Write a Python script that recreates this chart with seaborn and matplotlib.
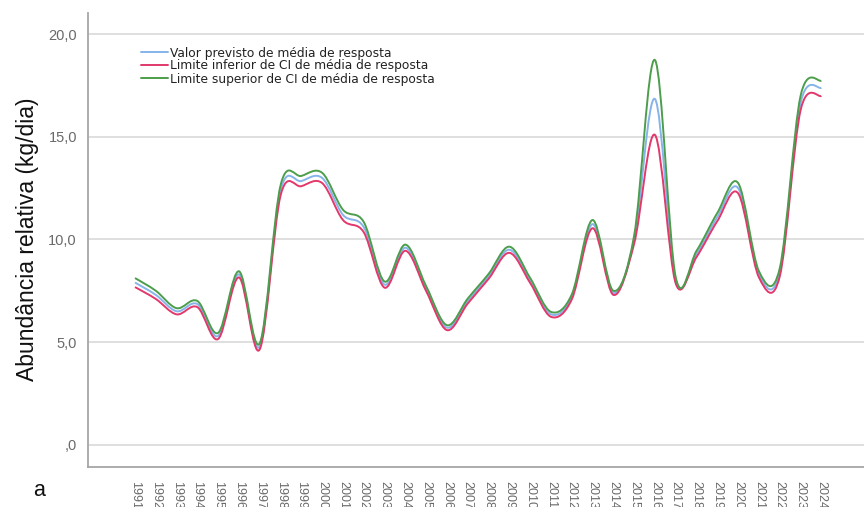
import numpy as np
import pandas as pd
import matplotlib
matplotlib.use("Agg")
import matplotlib.pyplot as plt
import seaborn as sns
from matplotlib.path import Path
from matplotlib.patches import PathPatch
from matplotlib.lines import Line2D

# ----------------------------------------------------------------------
# Dados
# ----------------------------------------------------------------------
anos = list(range(1991, 2025))

media = [7.9, 7.3, 6.5, 6.85, 5.3, 8.3, 4.8, 12.4, 12.85, 13.0,
         11.2, 10.6, 7.8, 9.6, 7.6, 5.7, 7.0, 8.2, 9.5, 8.0,
         6.35, 7.2, 10.75, 7.4, 10.0, 16.85, 8.0, 9.3, 11.1, 12.5,
         8.3, 8.4, 16.65, 17.4]

limite_inf = [7.68, 7.1, 6.35, 6.7, 5.15, 8.15, 4.65, 12.15, 12.6, 12.75,
              10.95, 10.35, 7.65, 9.45, 7.48, 5.58, 6.88, 8.08, 9.35, 7.88,
              6.23, 7.08, 10.55, 7.3, 9.8, 15.1, 7.85, 9.15, 10.9, 12.25,
              8.15, 8.2, 16.3, 17.0]

limite_sup = [8.12, 7.5, 6.65, 7.0, 5.45, 8.45, 4.95, 12.65, 13.1, 13.25,
              11.45, 10.85, 7.95, 9.75, 7.72, 5.82, 7.12, 8.32, 9.65, 8.12,
              6.47, 7.32, 10.95, 7.5, 10.2, 18.75, 8.15, 9.45, 11.3, 12.75,
              8.45, 8.6, 17.0, 17.75]

series = ["Valor previsto de média de resposta",
          "Limite inferior de CI de média de resposta",
          "Limite superior de CI de média de resposta"]
cores = ["#86b4ea", "#e2386b", "#4c9e4c"]

y_ticks = [0, 5, 10, 15, 20]
y_tick_labels = [",0", "5,0", "10,0", "15,0", "20,0"]
x_tick_labels = [str(a) for a in anos]

df = pd.DataFrame({"ano": anos, series[0]: media,
                   series[1]: limite_inf, series[2]: limite_sup})

# ----------------------------------------------------------------------
# Estilo
# ----------------------------------------------------------------------
sns.set_style("white")
plt.rcParams["font.family"] = ["Liberation Sans", "DejaVu Sans"]


def curva_suave(xs, ys):
    """Caminho Bézier (Catmull-Rom) que passa pelos pontos lidos."""
    pts = np.column_stack([xs, ys]).astype(float)
    n = len(pts)
    verts = [pts[0]]
    codes = [Path.MOVETO]
    for i in range(n - 1):
        p0 = pts[max(i - 1, 0)]
        p1 = pts[i]
        p2 = pts[i + 1]
        p3 = pts[min(i + 2, n - 1)]
        verts += [p1 + (p2 - p0) / 6, p2 - (p3 - p1) / 6, p2]
        codes += [Path.CURVE4] * 3
    return Path(verts, codes)


fig = plt.figure(figsize=(8.64, 5.07), dpi=100)
ax = fig.add_axes([88 / 864, 1 - 466.7 / 507, 1 - 88 / 864, 454 / 507])

# ordem de desenho: previsto, inferior, superior
for nome, cor in zip(series, cores):
    patch = PathPatch(curva_suave(df["ano"], df[nome]), fill=False,
                      edgecolor=cor, lw=1.4, zorder=3)
    ax.add_patch(patch)

ax.set_xlim(1988.74, 2026.05)
ax.set_ylim(-1.08, 21.06)

ax.set_yticks(y_ticks)
ax.set_yticklabels(y_tick_labels)
ax.set_xticks(anos)
ax.set_xticklabels(x_tick_labels, rotation=270)

ax.grid(axis="y", color="#dcdcdc", lw=1.3)
ax.set_axisbelow(True)
sns.despine(ax=ax, top=True, right=True)
for s in ["left", "bottom"]:
    ax.spines[s].set_color("#a6a6a6")
    ax.spines[s].set_linewidth(1.3)

ax.tick_params(axis="y", length=5, width=1, color="#c8c8c8",
               labelsize=10.5, labelcolor="#6a6a6a", pad=3)
ax.tick_params(axis="x", length=5, width=1, color="#c8c8c8",
               labelsize=9, labelcolor="#6a6a6a", pad=5)

ax.set_ylabel("Abundância relativa (kg/dia)", fontsize=16.5, color="#111111")
ax.yaxis.set_label_coords(-49 / 776, 0.5)

handles = [Line2D([], [], color=c, lw=1.4) for c in cores]
leg = ax.legend(handles, series, loc="upper left", frameon=False,
                bbox_to_anchor=(141 / 864, 1 - 46.5 / 507),
                bbox_transform=fig.transFigure,
                prop={"family": ["DejaVu Sans"], "size": 8.8},
                handlelength=2.2, handletextpad=0.2, labelspacing=0.0,
                borderpad=0, borderaxespad=0)
for t in leg.get_texts():
    t.set_color("#222222")

fig.text(39 / 864, 1 - 490 / 507, "a", fontsize=15.5, ha="center",
         va="center", color="#111111")

fig.savefig("out.png", dpi=100, facecolor="white")
